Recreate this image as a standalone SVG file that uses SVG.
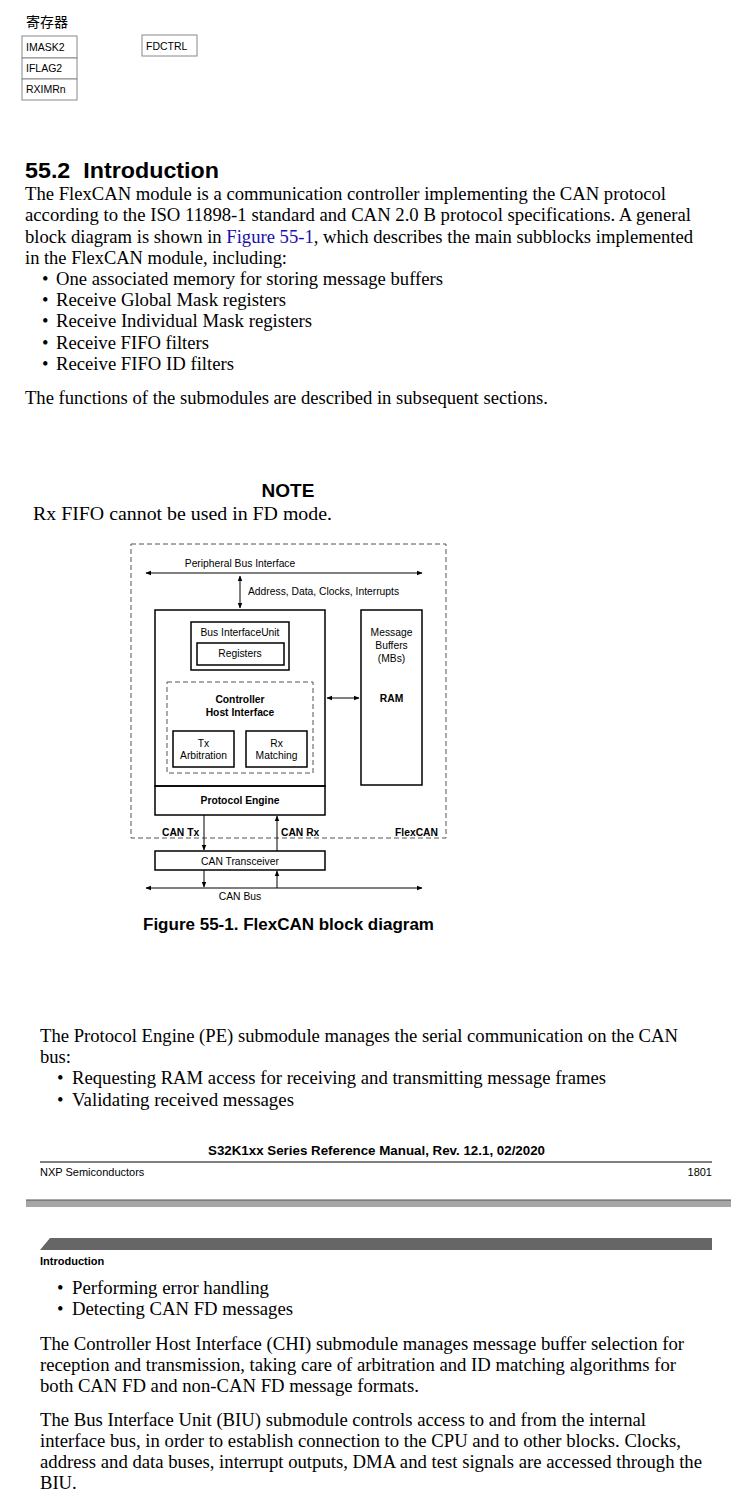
<svg xmlns="http://www.w3.org/2000/svg" width="731" height="1502" viewBox="0 0 731 1502">
<defs>
<style>
.serif{font-family:"Liberation Serif","Times New Roman",serif;font-size:18.6px;fill:#000}
.sans{font-family:"Liberation Sans",Arial,sans-serif;fill:#000}
.tbl{font-family:"Liberation Sans",Arial,sans-serif;font-size:10.5px;fill:#000}
.d{font-family:"Liberation Sans",Arial,sans-serif;font-size:10.3px;fill:#000}
.db{font-family:"Liberation Sans",Arial,sans-serif;font-size:10.3px;font-weight:bold;fill:#000}
.box{fill:none;stroke:#000;stroke-width:1.5}
.dash{fill:none;stroke:#555;stroke-width:1;stroke-dasharray:5,3}
.cell{fill:#fff;stroke:#888;stroke-width:1}
.ln{stroke:#000;stroke-width:1;fill:none}
.link{fill:#1a0dab}
</style>
<marker id="ah" viewBox="0 0 10 10" refX="9" refY="5" markerWidth="6" markerHeight="6" orient="auto-start-reverse">
<path d="M0,1 L10,5 L0,9 z" fill="#000"/>
</marker>
</defs>

<g id="registers">
<text x="26" y="27" style="font-family:'Noto Sans CJK SC',sans-serif;font-size:14px">寄存器</text>
<rect class="cell" x="22" y="36" width="55" height="22"/>
<rect class="cell" x="22" y="58" width="55" height="21"/>
<rect class="cell" x="22" y="79" width="55" height="21"/>
<rect class="cell" x="142" y="35" width="55" height="21"/>
<text class="tbl" x="26" y="51">IMASK2</text>
<text class="tbl" x="26" y="72">IFLAG2</text>
<text class="tbl" x="26" y="93">RXIMRn</text>
<text class="tbl" x="146" y="50">FDCTRL</text>
</g>

<g id="intro">
<text class="sans" x="25" y="178" xml:space="preserve" textLength="194" lengthAdjust="spacingAndGlyphs" style="font-size:22px;font-weight:bold">55.2  Introduction</text>
<text class="serif" x="25" y="200" textLength="641" lengthAdjust="spacingAndGlyphs">The FlexCAN module is a communication controller implementing the CAN protocol</text>
<text class="serif" x="25" y="221" textLength="666" lengthAdjust="spacingAndGlyphs">according to the ISO 11898-1 standard and CAN 2.0 B protocol specifications. A general</text>
<text class="serif" x="25" y="243" textLength="668" lengthAdjust="spacingAndGlyphs">block diagram is shown in <tspan class="link">Figure 55-1</tspan>, which describes the main subblocks implemented</text>
<text class="serif" x="25" y="264" textLength="262" lengthAdjust="spacingAndGlyphs">in the FlexCAN module, including:</text>
<text class="serif" x="42" y="285">•</text><text class="serif" x="56" y="285" textLength="387" lengthAdjust="spacingAndGlyphs">One associated memory for storing message buffers</text>
<text class="serif" x="42" y="306">•</text><text class="serif" x="56" y="306" textLength="230" lengthAdjust="spacingAndGlyphs">Receive Global Mask registers</text>
<text class="serif" x="42" y="327">•</text><text class="serif" x="56" y="327" textLength="256" lengthAdjust="spacingAndGlyphs">Receive Individual Mask registers</text>
<text class="serif" x="42" y="349">•</text><text class="serif" x="56" y="349" textLength="153" lengthAdjust="spacingAndGlyphs">Receive FIFO filters</text>
<text class="serif" x="42" y="370">•</text><text class="serif" x="56" y="370" textLength="178" lengthAdjust="spacingAndGlyphs">Receive FIFO ID filters</text>
<text class="serif" x="25" y="404" textLength="523" lengthAdjust="spacingAndGlyphs">The functions of the submodules are described in subsequent sections.</text>
<text class="sans" x="288" y="497" text-anchor="middle" style="font-size:19px;font-weight:bold">NOTE</text>
<text class="serif" x="33" y="520" textLength="299" lengthAdjust="spacingAndGlyphs">Rx FIFO cannot be used in FD mode.</text>
</g>

<g id="flexcan">
<rect class="dash" x="131" y="544" width="315" height="294"/>
<text class="db" x="438" y="836" text-anchor="end">FlexCAN</text>
</g>
<g id="peripheral-bus">
<text class="d" x="240" y="567" text-anchor="middle">Peripheral Bus Interface</text>
</g>
<g id="main-block">
<rect class="box" x="155" y="610" width="170" height="176"/>
</g>
<g id="biu">
<rect class="box" x="191" y="622" width="98" height="48"/>
<text class="d" x="240" y="636" text-anchor="middle">Bus InterfaceUnit</text>
</g>
<g id="registers-box">
<rect class="box" x="197" y="643" width="87" height="22"/>
<text class="d" x="240" y="657" text-anchor="middle">Registers</text>
</g>
<g id="chi">
<rect class="dash" x="167" y="682" width="146" height="91"/>
<text class="db" x="240" y="703" text-anchor="middle">Controller</text>
<text class="db" x="240" y="716" text-anchor="middle">Host Interface</text>
</g>
<g id="tx-arb">
<rect class="box" x="173" y="731" width="61" height="36"/>
<text class="d" x="203.5" y="747" text-anchor="middle">Tx</text>
<text class="d" x="203.5" y="759" text-anchor="middle">Arbitration</text>
</g>
<g id="rx-match">
<rect class="box" x="246" y="731" width="61" height="36"/>
<text class="d" x="276.5" y="747" text-anchor="middle">Rx</text>
<text class="d" x="276.5" y="759" text-anchor="middle">Matching</text>
</g>
<g id="ram">
<rect class="box" x="361" y="610" width="61" height="175"/>
<text class="d" x="391.5" y="636" text-anchor="middle">Message</text>
<text class="d" x="391.5" y="649" text-anchor="middle">Buffers</text>
<text class="d" x="391.5" y="662" text-anchor="middle">(MBs)</text>
<text class="db" x="391.5" y="702" text-anchor="middle">RAM</text>
</g>
<g id="pe">
<rect class="box" x="155" y="786" width="170" height="29"/>
<text class="db" x="240" y="804" text-anchor="middle">Protocol Engine</text>
</g>
<g id="transceiver">
<rect class="box" x="155" y="851" width="170" height="19"/>
<text class="d" x="240" y="865" text-anchor="middle">CAN Transceiver</text>
</g>
<g id="can-bus">
<text class="d" x="240" y="900" text-anchor="middle">CAN Bus</text>
</g>

<g id="connectors">
<line class="ln" x1="146" y1="573" x2="422" y2="573" marker-start="url(#ah)" marker-end="url(#ah)"/>
<line class="ln" x1="240" y1="576" x2="240" y2="608" marker-start="url(#ah)" marker-end="url(#ah)"/>
<text class="d" x="248" y="595">Address, Data, Clocks, Interrupts</text>
<line class="ln" x1="327" y1="698" x2="359" y2="698" marker-start="url(#ah)" marker-end="url(#ah)"/>
<line class="ln" x1="204" y1="815" x2="204" y2="850" marker-end="url(#ah)"/>
<line class="ln" x1="277" y1="851" x2="277" y2="816" marker-end="url(#ah)"/>
<text class="db" x="162" y="836">CAN Tx</text>
<text class="db" x="281" y="836">CAN Rx</text>
<line class="ln" x1="204" y1="870" x2="204" y2="887" marker-end="url(#ah)"/>
<line class="ln" x1="277" y1="888" x2="277" y2="871" marker-end="url(#ah)"/>
<line class="ln" x1="146" y1="888" x2="422" y2="888" marker-start="url(#ah)" marker-end="url(#ah)"/>
</g>

<g id="caption">
<text class="sans" x="143" y="930" textLength="291" lengthAdjust="spacingAndGlyphs" style="font-size:16px;font-weight:bold">Figure 55-1. FlexCAN block diagram</text>
</g>

<g id="pe-text">
<text class="serif" x="40" y="1042" textLength="638" lengthAdjust="spacingAndGlyphs">The Protocol Engine (PE) submodule manages the serial communication on the CAN</text>
<text class="serif" x="40" y="1063">bus:</text>
<text class="serif" x="57" y="1084">•</text><text class="serif" x="72" y="1084" textLength="534" lengthAdjust="spacingAndGlyphs">Requesting RAM access for receiving and transmitting message frames</text>
<text class="serif" x="57" y="1106">•</text><text class="serif" x="72" y="1106" textLength="222" lengthAdjust="spacingAndGlyphs">Validating received messages</text>
</g>

<g id="footer">
<text class="sans" x="208" y="1155" textLength="337" lengthAdjust="spacingAndGlyphs" style="font-size:12.5px;font-weight:bold">S32K1xx Series Reference Manual, Rev. 12.1, 02/2020</text>
<line x1="40" y1="1162" x2="712" y2="1162" stroke="#000" stroke-width="1"/>
<text class="sans" x="40" y="1176" style="font-size:11px">NXP Semiconductors</text>
<text class="sans" x="712" y="1176" text-anchor="end" style="font-size:11px">1801</text>
<rect x="26" y="1200" width="705" height="7" fill="#a6a6a6"/>
<line x1="26" y1="1200" x2="731" y2="1200" stroke="#555" stroke-width="1"/>
</g>

<g id="header">
<polygon points="50,1238 712,1238 712,1250 40,1250" fill="#666"/>
<text class="sans" x="40" y="1265" style="font-size:11px;font-weight:bold">Introduction</text>
</g>

<g id="page2-text">
<text class="serif" x="57" y="1294">•</text><text class="serif" x="72" y="1294" textLength="197" lengthAdjust="spacingAndGlyphs">Performing error handling</text>
<text class="serif" x="57" y="1315">•</text><text class="serif" x="72" y="1315" textLength="221" lengthAdjust="spacingAndGlyphs">Detecting CAN FD messages</text>
<text class="serif" x="40" y="1350" textLength="644" lengthAdjust="spacingAndGlyphs">The Controller Host Interface (CHI) submodule manages message buffer selection for</text>
<text class="serif" x="40" y="1371" textLength="636" lengthAdjust="spacingAndGlyphs">reception and transmission, taking care of arbitration and ID matching algorithms for</text>
<text class="serif" x="40" y="1392" textLength="379" lengthAdjust="spacingAndGlyphs">both CAN FD and non-CAN FD message formats.</text>
<text class="serif" x="40" y="1426" textLength="606" lengthAdjust="spacingAndGlyphs">The Bus Interface Unit (BIU) submodule controls access to and from the internal</text>
<text class="serif" x="40" y="1447" textLength="641" lengthAdjust="spacingAndGlyphs">interface bus, in order to establish connection to the CPU and to other blocks. Clocks,</text>
<text class="serif" x="40" y="1468" textLength="662" lengthAdjust="spacingAndGlyphs">address and data buses, interrupt outputs, DMA and test signals are accessed through the</text>
<text class="serif" x="40" y="1489">BIU.</text>
</g>
</svg>
